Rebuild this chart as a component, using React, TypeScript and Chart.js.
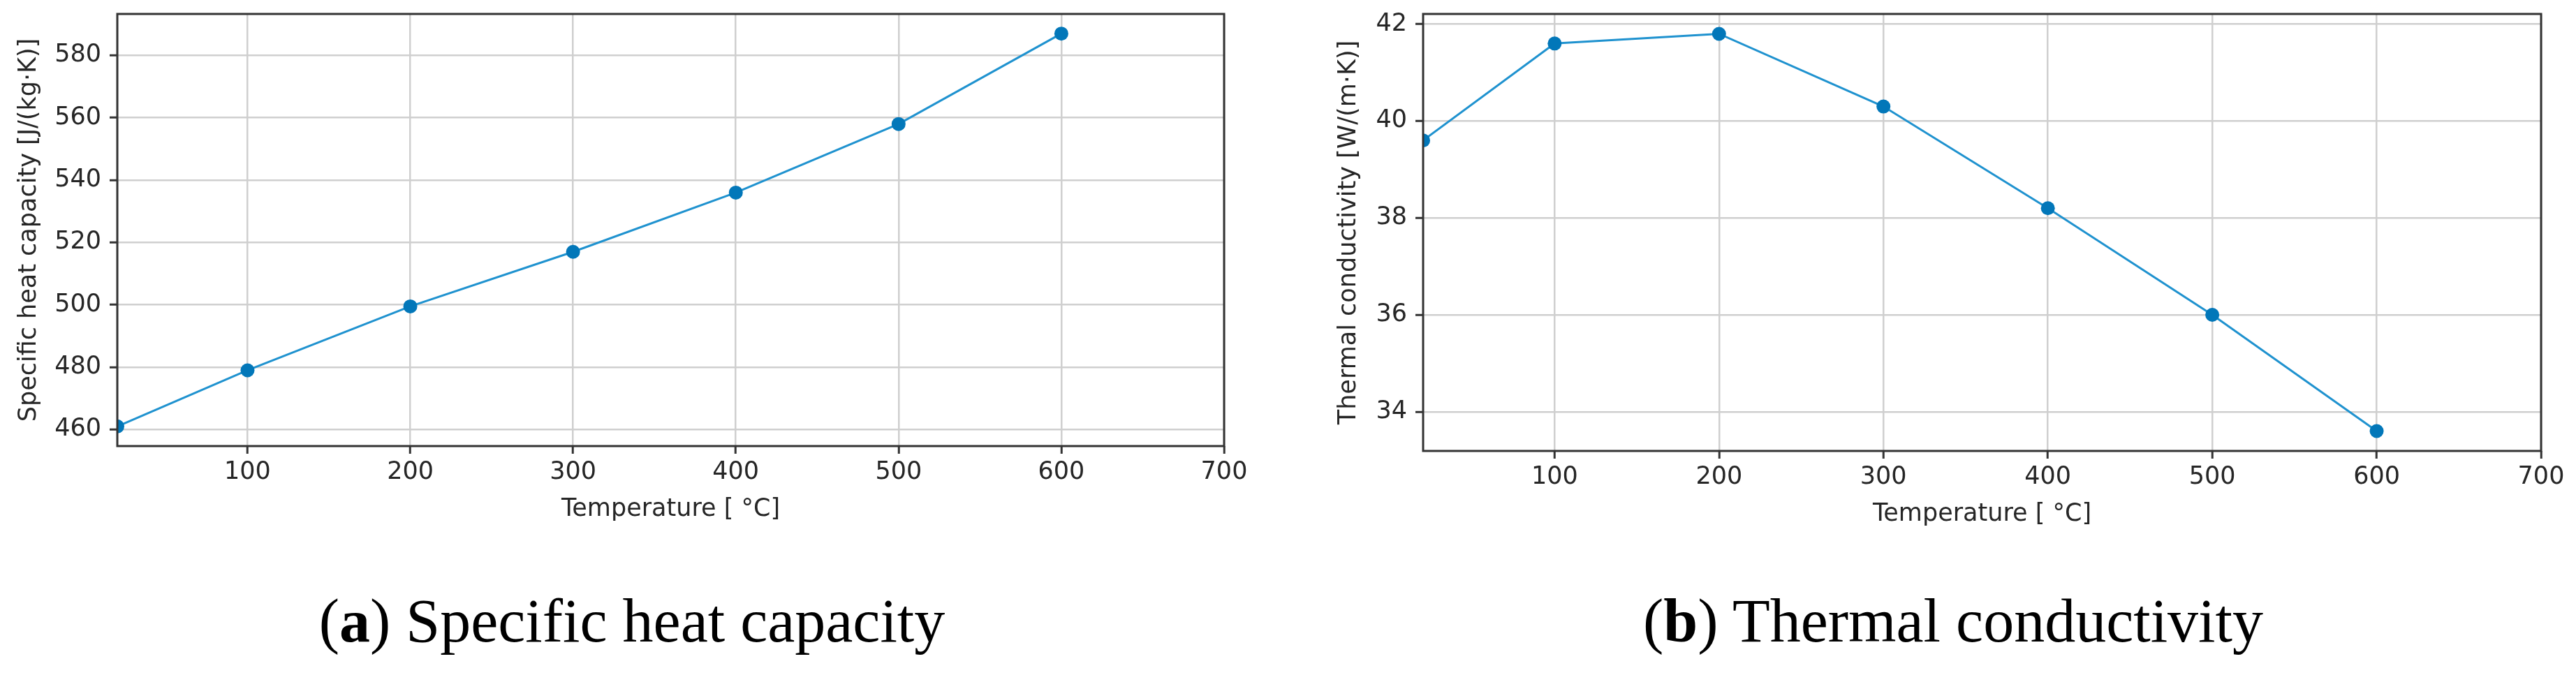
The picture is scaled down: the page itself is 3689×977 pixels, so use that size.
import React, { useEffect, useRef } from "react";
import { Chart, registerables } from "chart.js";

Chart.register(...registerables);

// ---- data ----
const temperatures = [20, 100, 200, 300, 400, 500, 600];
const specificHeat = [461, 479, 499.5, 517, 536, 558, 587];
const thermalConductivity = [39.6, 41.6, 41.8, 40.3, 38.2, 36.0, 33.6];

const xTicks = [100, 200, 300, 400, 500, 600, 700];
const heatTicks = [460, 480, 500, 520, 540, 560, 580];
const condTicks = [34, 36, 38, 40, 42];

const xRange = [20, 700];
const heatRange = [454.7, 593.3];
const condRange = [33.19, 42.21];

const xTitle = "Temperature [ °C]";
const heatTitle = "Specific heat capacity [J/(kg·K)]";
const condTitle = "Thermal conductivity [W/(m·K)]";

const captionLetters = ["a", "b"];
const captionTexts = ["Specific heat capacity", "Thermal conductivity"];

// ---- styles ----
const TEXT = "#262626";
const AXIS = "#333333";
const GRID = "#cfcfcf";
const LINE = "#1f92cf";
const MARKER = "#0277b9";
const FONT = "'DejaVu Sans', sans-serif";

const framePlugin = {
  id: "frame",
  afterDatasetsDraw(chart: any) {
    const { ctx, chartArea: a } = chart;
    ctx.save();
    ctx.strokeStyle = AXIS;
    ctx.lineWidth = 3;
    ctx.strokeRect(a.left, a.top, a.right - a.left, a.bottom - a.top);
    ctx.restore();
  },
};

type Spec = {
  left: number;
  width: number;
  height: number;
  padRight: number;
  padTop: number;
  yWidth: number;
  xHeight: number;
  yTitlePad: number;
  xTitlePad: number;
  values: number[];
  yTicks: number[];
  yRange: number[];
  yTitle: string;
};

function LineChart({ spec }: { spec: Spec }) {
  const ref = useRef<HTMLCanvasElement | null>(null);
  useEffect(() => {
    if (!ref.current) return;
    const tickFont = { family: FONT, size: 35 };
    const chart = new Chart(ref.current, {
      type: "line",
      data: {
        datasets: [
          {
            data: temperatures.map((t, i) => ({ x: t, y: spec.values[i] })),
            borderColor: LINE,
            borderWidth: 3,
            pointRadius: 10,
            pointHoverRadius: 10,
            pointBackgroundColor: MARKER,
            pointBorderWidth: 0,
            tension: 0,
            clip: 0,
          } as any,
        ],
      },
      options: {
        animation: false,
        responsive: false,
        devicePixelRatio: 1,
        events: [],
        layout: {
          autoPadding: false,
          padding: { left: 0, top: spec.padTop, right: spec.padRight, bottom: 0 },
        },
        plugins: { legend: { display: false }, tooltip: { enabled: false } },
        scales: {
          x: {
            type: "linear",
            min: xRange[0],
            max: xRange[1],
            afterBuildTicks: (s: any) => {
              s.ticks = xTicks.map((v) => ({ value: v }));
            },
            afterFit: (s: any) => {
              s.height = spec.xHeight;
              s.paddingLeft = 0;
              s.paddingRight = 0;
            },
            grid: {
              color: GRID,
              lineWidth: 2.5,
              tickColor: AXIS,
              tickLength: 11,
              tickWidth: 3,
            },
            border: { display: false },
            ticks: { font: tickFont, color: TEXT, padding: 6, maxRotation: 0 },
            title: {
              display: true,
              text: xTitle,
              font: tickFont,
              color: TEXT,
              padding: { top: 0, bottom: spec.xTitlePad },
            },
          },
          y: {
            type: "linear",
            min: spec.yRange[0],
            max: spec.yRange[1],
            afterBuildTicks: (s: any) => {
              s.ticks = spec.yTicks.map((v) => ({ value: v }));
            },
            afterFit: (s: any) => {
              s.width = spec.yWidth;
              s.paddingTop = 0;
              s.paddingBottom = 0;
            },
            grid: {
              color: GRID,
              lineWidth: 2.5,
              tickColor: AXIS,
              tickLength: 11,
              tickWidth: 3,
            },
            border: { display: false },
            ticks: { font: tickFont, color: TEXT, padding: 12 },
            title: {
              display: true,
              text: spec.yTitle,
              font: tickFont,
              color: TEXT,
              padding: { top: spec.yTitlePad, bottom: 0 },
            },
          },
        },
      } as any,
      plugins: [framePlugin],
    });
    return () => chart.destroy();
  }, [spec]);
  return (
    <canvas
      ref={ref}
      width={spec.width}
      height={spec.height}
      style={{ position: "absolute", left: spec.left, top: 0, width: spec.width, height: spec.height }}
    />
  );
}

const leftSpec: Spec = {
  left: 0,
  width: 1820,
  height: 800,
  padRight: 67,
  padTop: 20,
  yWidth: 168,
  xHeight: 161,
  yTitlePad: 21,
  xTitlePad: 49,
  values: specificHeat,
  yTicks: heatTicks,
  yRange: heatRange,
  yTitle: heatTitle,
};

const rightSpec: Spec = {
  left: 1845,
  width: 1844,
  height: 800,
  padRight: 50,
  padTop: 20,
  yWidth: 193,
  xHeight: 154,
  yTitlePad: 66,
  xTitlePad: 42,
  values: thermalConductivity,
  yTicks: condTicks,
  yRange: condRange,
  yTitle: condTitle,
};

const captionCenters = [905, 2797];

export default function App() {
  return (
    <div
      style={{
        position: "absolute",
        left: 0,
        top: 0,
        width: 3689,
        height: 977,
        background: "#ffffff",
        overflow: "hidden",
      }}
    >
      <LineChart spec={leftSpec} />
      <LineChart spec={rightSpec} />
      {captionTexts.map((t, i) => (
        <div
          key={t}
          style={{
            position: "absolute",
            left: captionCenters[i],
            top: 846,
            transform: "translateX(-50%)",
            whiteSpace: "nowrap",
            fontFamily: "'Liberation Serif', serif",
            fontSize: 88,
            lineHeight: 1,
            color: "#000",
          }}
        >
          (<b>{captionLetters[i]}</b>) {t}
        </div>
      ))}
    </div>
  );
}
